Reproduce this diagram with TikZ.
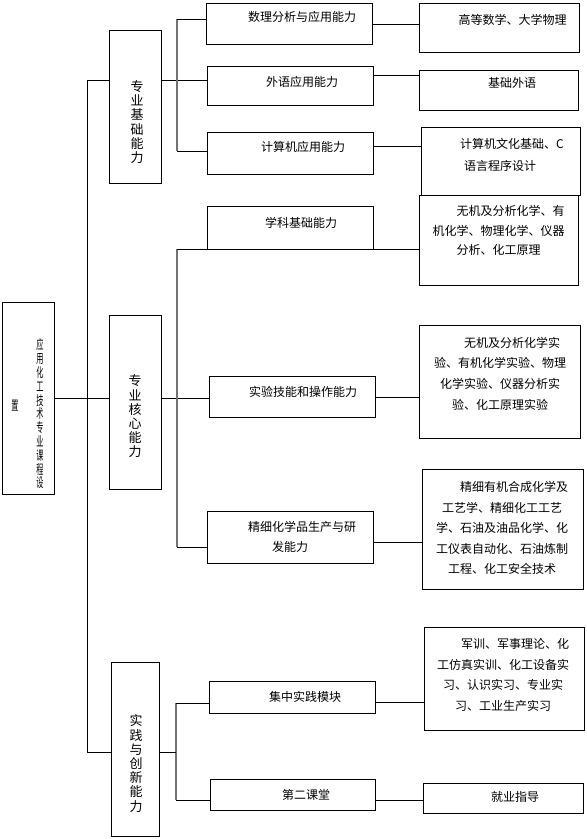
\documentclass[tikz,border=0pt]{standalone}
\usepackage{fontspec}
\newfontfamily\cjk{Noto Sans CJK SC}
\newcommand\sqz[1]{\scalebox{0.55}[1]{#1}}
\begin{document}
\begin{tikzpicture}[x=1pt,y=-1pt,
  box/.style={draw, line width=0.8pt, inner sep=0pt, anchor=north west},
  txt/.style={font=\cjk\fontsize{12}{20.5}\selectfont, align=center, inner sep=0pt},
  vtxt/.style={font=\cjk\fontsize{13}{14.2}\selectfont, align=center, inner sep=0pt},
  ln/.style={line width=0.8pt},
  br/.style={line width=1.1pt, black!55}]
\fill[white] (0,0) rectangle (587,839);
\useasboundingbox (0,0) rectangle (587,839);
% boxes
\node[box, minimum width=52pt, minimum height=192pt] (root) at (2,302) {};
\node[box, minimum width=52pt, minimum height=153pt] (L1) at (109,30) {};
\node[box, minimum width=52pt, minimum height=174pt] (L2) at (109,315) {};
\node[box, minimum width=48pt, minimum height=174pt] (L3) at (111,662) {};
\node[box, minimum width=166pt, minimum height=41pt] (A1) at (206,3) {};
\node[box, minimum width=166pt, minimum height=39pt] (A2) at (207,66) {};
\node[box, minimum width=166pt, minimum height=42pt] (A3) at (207,132) {};
\node[box, minimum width=166pt, minimum height=43pt] (B1) at (207,206) {};
\node[box, minimum width=166pt, minimum height=41pt] (B2) at (209,376) {};
\node[box, minimum width=166pt, minimum height=52pt] (B3) at (207,511) {};
\node[box, minimum width=166pt, minimum height=32pt] (C1) at (209,681) {};
\node[box, minimum width=165pt, minimum height=31pt] (C2) at (210,779) {};
\node[box, minimum width=160pt, minimum height=49pt] (R1) at (419,3) {};
\node[box, minimum width=159pt, minimum height=40pt] (R2) at (419,70) {};
\node[box, minimum width=159pt, minimum height=68pt] (R3) at (421,127) {};
\node[box, minimum width=159pt, minimum height=90pt] (R4) at (419,195) {};
\node[box, minimum width=161pt, minimum height=113pt] (R5) at (419,325) {};
\node[box, minimum width=161pt, minimum height=120pt] (R6) at (422,469) {};
\node[box, minimum width=160pt, minimum height=103pt] (R7) at (424,627) {};
\node[box, minimum width=160pt, minimum height=30pt] (R8) at (423,783) {};
% texts
\foreach \c [count=\i] in {应,用,化,工,技,术,专,业,课,程,设}
  \node[vtxt] (rt\i) at (40,{345+13.8*(\i-1)}) {\sqz{\c}};
\node[vtxt] (rtx) at (15,406) {\sqz{置}};
\node[vtxt] (L1t) at (137,122) {专\\业\\基\\础\\能\\力};
\node[vtxt] (L2t) at (135,416.5) {专\\业\\核\\心\\能\\力};
\node[vtxt] (L3t) at (136,763.5) {实\\践\\与\\创\\新\\能\\力};
\node[txt] (A1t) at (302,17) {数理分析与应用能力};
\node[txt] (A2t) at (302,82) {外语应用能力};
\node[txt] (A3t) at (303,147) {计算机应用能力};
\node[txt] (B1t) at (301,223) {学科基础能力};
\node[txt] (B2t) at (303,392) {实验技能和操作能力};
\node[txt] (B3t) at (290,537) {\hspace*{2em}精细化学品生产与研\\发能力};
\node[txt] (C1t) at (305,697) {集中实践模块};
\node[txt] (C2t) at (306,795) {第二课堂};
\node[txt] (R1t) at (512.5,20) {高等数学、大学物理};
\node[txt] (R2t) at (512,83) {基础外语};
\node[txt, font=\cjk\fontsize{12}{22}\selectfont] (R3t) at (500,155) {\hspace*{2em}计算机文化基础、C\\语言程序设计};
\node[txt, font=\cjk\fontsize{12}{19.5}\selectfont] (R4t) at (498.5,230.5) {\hspace*{2em}无机及分析化学、有\\机化学、物理化学、仪器\\分析、化工原理};
\node[txt, font=\cjk\fontsize{12}{20.7}\selectfont] (R5t) at (500,373.5) {\hspace*{2em}无机及分析化学实\\验、有机化学实验、物理\\化学实验、仪器分析实\\验、化工原理实验};
\node[txt] (R6t) at (502,528) {\hspace*{2em}精细有机合成化学及\\工艺学、精细化工工艺\\学、石油及油品化学、化\\工仪表自动化、石油炼制\\工程、化工安全技术};
\node[txt, font=\cjk\fontsize{12}{20.7}\selectfont] (R7t) at (503,675) {\hspace*{2em}军训、军事理论、化\\工仿真实训、化工设备实\\习、认识实习、专业实\\习、工业生产实习};
\node[txt] (R8t) at (515,797) {就业指导};
% trunk
\coordinate (T1) at (87,80);
\coordinate (T2) at (87,398);
\coordinate (T3) at (87,752);
\draw[ln] (T1) -- (T3);
\draw[ln] (root.east |- T2) -- (T2);
\draw[ln] (T1) -- (T1 -| L1.west);
\draw[ln] (T1 -| L1.east) -- (T1 -| A2.west);
\draw[ln] (T2) -- (T2 -| L2.west);
\draw[ln] (T2 -| L2.east) -- (T2 -| B2.west);
\draw[ln] (T3) -- (T3 -| L3.west);
% branch 1
\coordinate (P1) at (177,19);
\coordinate (P2) at (177,151);
\draw[br] (P1) -- (P2);
\draw[ln] (P1) -- (P1 -| A1.west);
\draw[ln] (P2) -- (P2 -| A3.west);
% branch 2
\coordinate (Q1) at (177,249);
\coordinate (Q2) at (177,547);
\draw[br] (Q1) -- (Q2);
\draw[ln] (Q1) -- (Q1 -| B1.west);
\draw[ln] (Q2) -- (Q2 -| B3.west);
% branch 3
\coordinate (S1) at (176,703);
\coordinate (S2) at (176,800);
\draw[br] (S1) -- (S2);
\draw[ln] (T3 -| L3.east) -- (T3 -| S1);
\draw[ln] (S1) -- (S1 -| C1.west);
\draw[ln] (S2) -- (S2 -| C2.west);
% right connectors
\draw[ln] (A1.east |- 0,24) -- (R1.west |- 0,24);
\draw[ln] (A2.east |- 0,75) -- (R2.west |- 0,75);
\draw[ln] (A3.east |- 0,146) -- (R3.west |- 0,146);
\draw[ln] (B1.east |- 0,249) -- (R4.west |- 0,249);
\draw[ln] (B2.east |- 0,397) -- (R5.west |- 0,397);
\draw[ln] (B3.east |- 0,542) -- (R6.west |- 0,542);
\draw[ln] (C1.east |- 0,702) -- (R7.west |- 0,702);
\draw[ln] (C2.east |- 0,800) -- (R8.west |- 0,800);
\end{tikzpicture}
\end{document}
